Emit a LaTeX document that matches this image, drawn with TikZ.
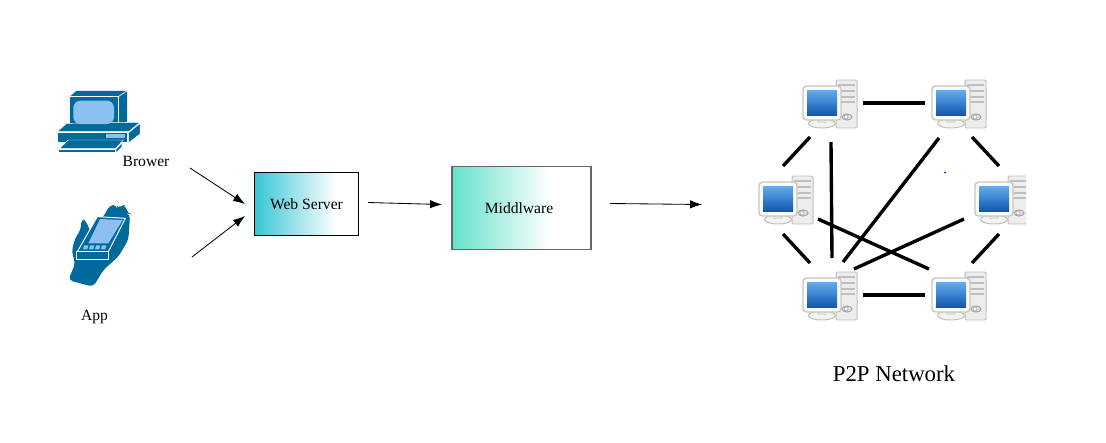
\documentclass[tikz,border=0pt]{standalone}
\usepackage{fontspec}
\setmainfont{Liberation Serif}
\usetikzlibrary{arrows.meta}
\definecolor{iconblue}{HTML}{006A9C}
\definecolor{iconlight}{HTML}{8CC0EE}
\definecolor{webteal}{HTML}{38C6D6}
\definecolor{midgreen}{HTML}{64E2CA}
\definecolor{screentop}{HTML}{62AEEE}
\definecolor{screenmid}{HTML}{1F74D0}
\definecolor{screenlow}{HTML}{1258B0}
\pgfdeclarehorizontalshading{webfade}{100bp}{color(0bp)=(webteal); color(25bp)=(webteal); color(64bp)=(white); color(100bp)=(white)}
\pgfdeclarehorizontalshading{midfade}{100bp}{color(0bp)=(midgreen); color(25bp)=(midgreen); color(60bp)=(white); color(100bp)=(white)}
\tikzset{
  label11/.style={font=\fontsize{11.1}{13}\selectfont},
  flow/.style={-{Latex[length=8.5pt,width=6pt]},line width=0.6pt},
  netlink/.style={line width=2.4pt},
  pcbox/.style={minimum width=1.4cm,minimum height=1.2cm,inner sep=0pt},
  iconface/.style={fill=iconblue,draw=white,line width=0.35pt,line join=round},
  pcicon/.pic={
    \draw[gray!50,fill=gray!14,line width=0.7pt,rounded corners=1pt] (6,-24) rectangle (27,24);
    \foreach \yy in {-19,-13,-7,-2} \draw[gray!50,line width=0.8pt] (8,\yy) -- (25,\yy);
    \draw[gray!70,fill=gray!25,line width=0.7pt] (17,13) ellipse (5 and 3);
    \draw[gray!70,fill=white] (16,13) circle (2);
    \draw[gray!50,fill=gray!10,line width=0.7pt] (-8,19.5) ellipse (13.5 and 4.5);
    \fill[gray!25] (-13,15) rectangle (-3,19);
    \draw[gray!45,fill=gray!3,line width=1pt,rounded corners=2.5pt] (-27,-18) rectangle (11,16);
    \shade[top color=screentop,middle color=screenmid,bottom color=screenlow] (-23,-14) rectangle (7,11);
  }
}
\begin{document}
\begin{tikzpicture}[x=0.025cm,y=-0.025cm]
\useasboundingbox (0,0) rectangle (1106,442);
\begin{scope}[shift={(40,70)},scale=1/3]
\draw[iconface] (88,80) -- (108,62) -- (262,62) -- (235,80) -- cycle;
\draw[iconface] (235,80) -- (262,62) -- (262,155) -- (235,172) -- cycle;
\draw[iconface] (88,80) rectangle (235,172);
\draw[iconface] (52,185) -- (80,160) -- (300,157) -- (266,185) -- cycle;
\draw[iconface] (266,188) -- (300,160) -- (300,192) -- (266,218) -- cycle;
\draw[iconface] (52,188) rectangle (263,218);
\fill[iconlight,rounded corners=5pt] (100,92) rectangle (222,162);
\fill[iconlight] (197,192) rectangle (254,203);
\draw[iconface] (58,236) -- (85,210) -- (250,210) -- (226,236) -- cycle;
\draw[iconface] (56,238) rectangle (226,248);
\draw[iconface] (228,238) -- (247,218) -- (245,232) -- (228,248) -- cycle;
\fill[iconblue,rounded corners=3pt] (85,630) -- (106,580) -- (95,545) -- (105,505) -- (122,480) -- (125,445) -- (140,455) -- (152,490) -- (195,432) -- (210,405) -- (230,405) -- (233,418) -- (245,403) -- (258,408) -- (262,430) -- (270,432) -- (268,470) -- (265,510) -- (235,560) -- (190,600) -- (160,650) -- (120,640) -- cycle;
\draw[iconface,line width=0.7pt] (112,545) -- (172,440) -- (256,445) -- (205,545) -- cycle;
\draw[iconface,line width=0.7pt] (110,545) rectangle (205,568);
\fill[iconlight] (145,520) -- (180,447) -- (248,450) -- (205,520) -- cycle;
\foreach \xx in {132,150,168,186} \fill[iconlight] (\xx,526) -- (\xx+13,526) -- (\xx+10,538) -- (\xx-3,538) -- cycle;
\end{scope}
\node[label11] (brower) at (146,161) {Brower};
\node[label11] (app) at (94.5,317.5) {App};
\node[draw=black,line width=0.7pt,minimum width=2.6cm,minimum height=1.56cm,inner sep=0pt,shading=webfade,label11] (web) at (306.5,204) {Web Server};
\node[draw=black!60,line width=0.8pt,minimum width=3.475cm,minimum height=2.06cm,inner sep=0pt,shading=midfade,label11] (mid) at (521.5,208) {Middlware\kern3.5pt};
\coordinate (browerout) at (190,168);
\coordinate (appout) at (192,257);
\coordinate (webin1) at (245,204);
\coordinate (webin2) at (245,216);
\coordinate (webout) at (368,202.5);
\coordinate (midin) at (442,204.5);
\coordinate (midout) at (610,203.5);
\coordinate (netin) at (702,204.5);
\draw[flow] (browerout) -- (webin1);
\draw[flow] (appout) -- (webin2);
\draw[flow] (webout) -- (midin);
\draw[flow] (midout) -- (netin);
\node[pcbox] (PC1) at (830,104) {};
\node[pcbox] (PC2) at (959,104) {};
\node[pcbox] (PC3) at (786,200) {};
\node[pcbox] (PC4) at (1002,200) {};
\node[pcbox] (PC5) at (830,296) {};
\node[pcbox] (PC6) at (959,296) {};
\pic at (PC1) {pcicon};
\pic at (PC2) {pcicon};
\pic at (PC3) {pcicon};
\begin{scope}
\clip (900,100) rectangle (1026,300);
\pic at (PC4) {pcicon};
\end{scope}
\pic at (PC5) {pcicon};
\pic at (PC6) {pcicon};
\draw[netlink] ([shift={(33,-1)}]PC1.center) -- ([shift={(-34,-1)}]PC2.center);
\draw[netlink] ([shift={(-20,33)}]PC1.center) -- ([shift={(-3,-34)}]PC3.center);
\draw[netlink] ([shift={(1,38)}]PC1.center) -- ([shift={(2,-38)}]PC5.center);
\draw[netlink] ([shift={(-20,34)}]PC2.center) -- ([shift={(13,-34)}]PC5.center);
\draw[netlink] ([shift={(13,33)}]PC2.center) -- ([shift={(-3,-34)}]PC4.center);
\draw[netlink] ([shift={(-3,34)}]PC3.center) -- ([shift={(-20,-33)}]PC5.center);
\draw[netlink] ([shift={(32,19)}]PC3.center) -- ([shift={(-30,-27)}]PC6.center);
\draw[netlink] ([shift={(-38,19)}]PC4.center) -- ([shift={(24,-27)}]PC5.center);
\draw[netlink] ([shift={(-3,34)}]PC4.center) -- ([shift={(13,-33)}]PC6.center);
\draw[netlink] ([shift={(33,-1)}]PC5.center) -- ([shift={(-34,-1)}]PC6.center);
\fill[blue] (945,172.5) circle (1);
\node[font=\fontsize{16.2}{19}\selectfont] (p2p) at (894,374) {P2P Network};
\end{tikzpicture}
\end{document}
